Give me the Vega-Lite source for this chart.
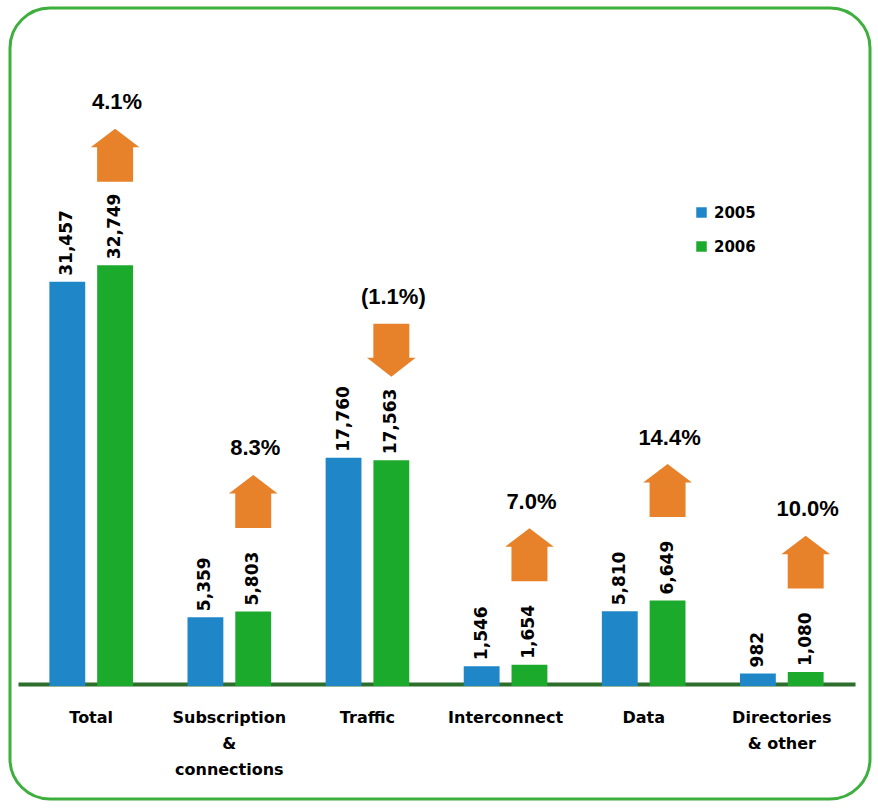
{
  "$schema": "https://vega.github.io/schema/vega-lite/v6.json",
  "width": 860,
  "height": 791,
  "autosize": {"type": "none"},
  "padding": {"left": 10, "top": 8, "right": 8, "bottom": 9},
  "background": "white",
  "config": {
    "view": {"stroke": "#3caf3c", "strokeWidth": 3, "cornerRadius": 40}
  },
  "data": {
    "values": [
      {"category": "Total", "year": "2005", "value": 31457, "change": null, "dir": null},
      {"category": "Total", "year": "2006", "value": 32749, "change": "4.1%", "dir": "up"},
      {"category": "Subscription & connections", "year": "2005", "value": 5359, "change": null, "dir": null},
      {"category": "Subscription & connections", "year": "2006", "value": 5803, "change": "8.3%", "dir": "up"},
      {"category": "Traffic", "year": "2005", "value": 17760, "change": null, "dir": null},
      {"category": "Traffic", "year": "2006", "value": 17563, "change": "(1.1%)", "dir": "down"},
      {"category": "Interconnect", "year": "2005", "value": 1546, "change": null, "dir": null},
      {"category": "Interconnect", "year": "2006", "value": 1654, "change": "7.0%", "dir": "up"},
      {"category": "Data", "year": "2005", "value": 5810, "change": null, "dir": null},
      {"category": "Data", "year": "2006", "value": 6649, "change": "14.4%", "dir": "up"},
      {"category": "Directories & other", "year": "2005", "value": 982, "change": null, "dir": null},
      {"category": "Directories & other", "year": "2006", "value": 1080, "change": "10.0%", "dir": "up"}
    ]
  },
  "encoding": {
    "x": {
      "field": "category",
      "type": "nominal",
      "sort": ["Total", "Subscription & connections", "Traffic", "Interconnect", "Data", "Directories & other"],
      "scale": {"range": [8, 845], "paddingInner": 0, "paddingOuter": 0.03},
      "axis": {
        "title": null,
        "offset": -115,
        "domainColor": "#2d6e2d",
        "domainWidth": 4,
        "ticks": false,
        "labelAngle": 0,
        "labelFont": "DejaVu Sans",
        "labelFontWeight": "bold",
        "labelFontSize": 16,
        "labelColor": "#000000",
        "labelBaseline": "top",
        "labelPadding": 25,
        "labelLineHeight": 26,
        "labelExpr": "datum.label == 'Subscription & connections' ? ['Subscription', '&', 'connections'] : datum.label == 'Directories & other' ? ['Directories', '& other'] : datum.label"
      }
    },
    "xOffset": {
      "field": "year",
      "type": "nominal",
      "scale": {"domain": ["2005", "2006"], "paddingInner": 0.25, "paddingOuter": 0.57}
    },
    "y": {
      "field": "value",
      "type": "quantitative",
      "scale": {"domain": [-8794, 52763], "nice": false, "zero": false},
      "axis": null
    }
  },
  "layer": [
    {
      "mark": {"type": "bar"},
      "encoding": {
        "color": {
          "field": "year",
          "type": "nominal",
          "scale": {"domain": ["2005", "2006"], "range": ["#1f87c8", "#1caa2c"]},
          "legend": {
            "orient": "none",
            "legendX": 684,
            "legendY": 197,
            "title": null,
            "symbolType": "square",
            "symbolSize": 110,
            "symbolStrokeWidth": 0,
            "labelFont": "DejaVu Sans",
            "labelFontWeight": "bold",
            "labelFontSize": 15,
            "labelColor": "#000000",
            "labelOffset": 5,
            "rowPadding": 18
          }
        }
      }
    },
    {
      "mark": {
        "type": "text",
        "angle": 270,
        "align": "left",
        "baseline": "middle",
        "dx": 6,
        "font": "DejaVu Sans",
        "fontWeight": "bold",
        "fontSize": 17,
        "color": "#000000"
      },
      "encoding": {"text": {"field": "value", "type": "quantitative", "format": ","}}
    },
    {
      "transform": [{"filter": "datum.year == '2006'"}],
      "mark": {"type": "point", "filled": true, "size": 2800, "yOffset": -110, "color": "#e8822a", "opacity": 1, "strokeWidth": 0},
      "encoding": {
        "shape": {
          "field": "dir",
          "type": "nominal",
          "scale": {
            "domain": ["up", "down"],
            "range": [
              "M0,-1L0.92,-0.3L0.68,-0.3L0.68,1L-0.68,1L-0.68,-0.3L-0.92,-0.3Z",
              "M0,1L0.92,0.28L0.68,0.28L0.68,-1L-0.68,-1L-0.68,0.28L-0.92,0.28Z"
            ]
          },
          "legend": null
        }
      }
    },
    {
      "transform": [{"filter": "datum.year == '2006'"}],
      "mark": {
        "type": "text",
        "yOffset": -163,
        "dx": 2,
        "font": "Liberation Sans",
        "fontWeight": "bold",
        "fontSize": 22,
        "color": "#000000",
        "baseline": "middle"
      },
      "encoding": {"text": {"field": "change", "type": "nominal"}}
    }
  ]
}
